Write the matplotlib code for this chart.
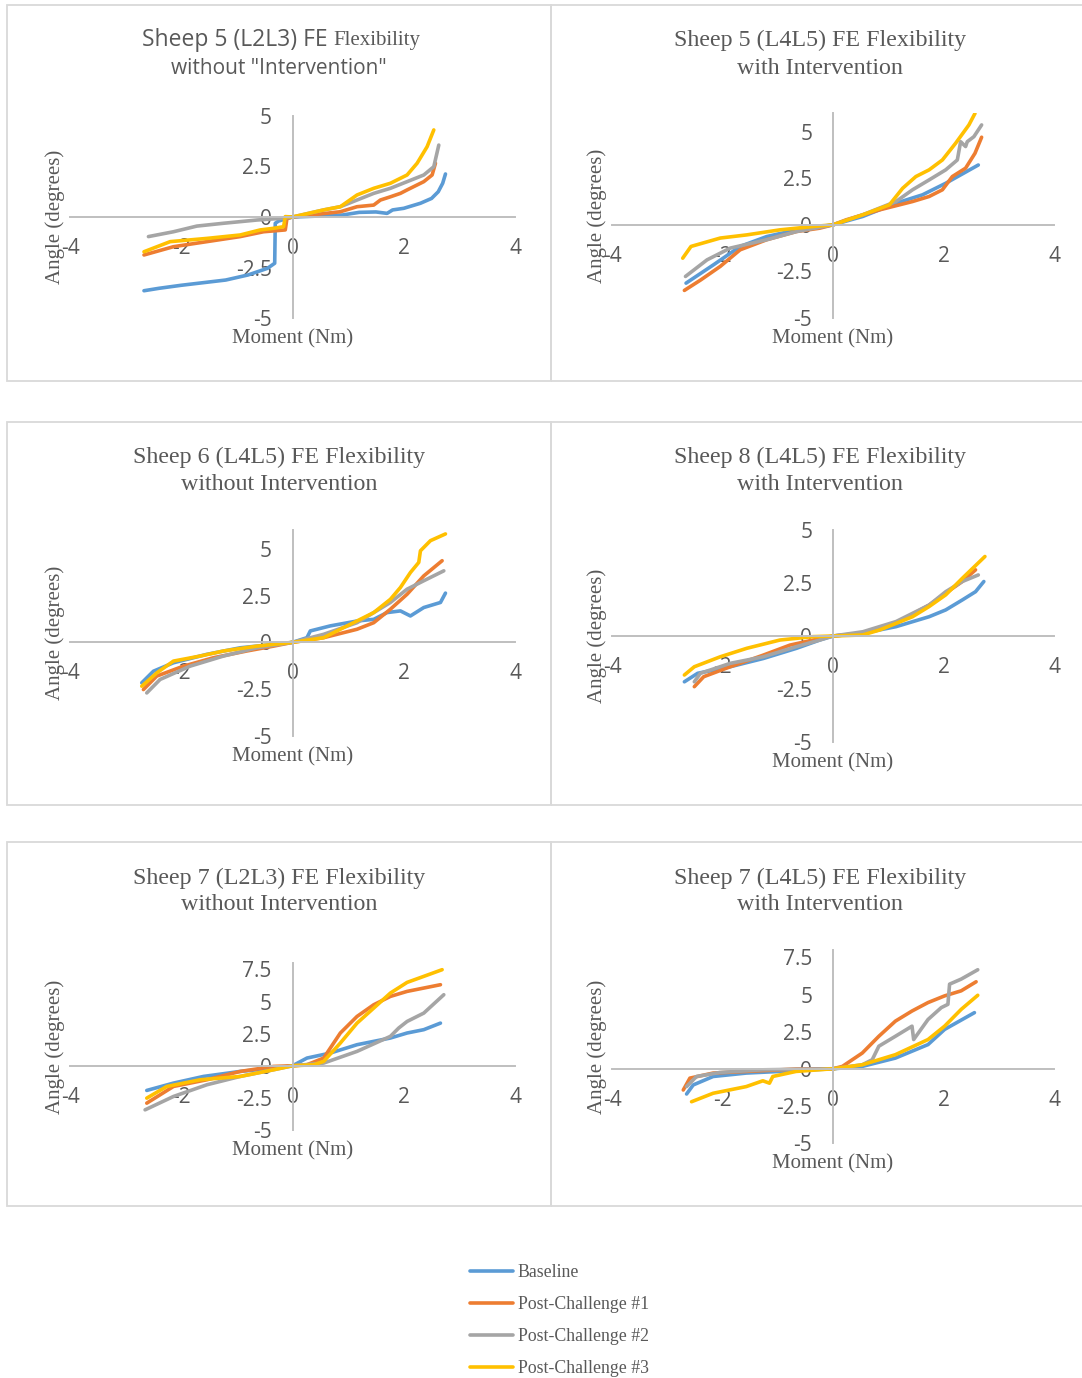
import matplotlib
matplotlib.use("Agg")
import matplotlib.pyplot as plt
from matplotlib.patches import Rectangle

# ---- data (Moment in Nm, Angle in degrees) ----
series_names = ["Baseline", "Post-Challenge #1", "Post-Challenge #2", "Post-Challenge #3"]
series_colors = ["#5B9BD5", "#ED7D31", "#A5A5A5", "#FFC000"]

# Sheep 5 (L2L3) without intervention
s5a_base_x = [-2.67, -2.4, -2.0, -1.6, -1.2, -0.8, -0.45, -0.32, -0.31, -0.25, 0.0, 0.5, 0.9, 1.2, 1.5, 1.7, 1.8, 2.0, 2.3, 2.5, 2.62, 2.7, 2.75]
s5a_base_y = [-3.65, -3.53, -3.38, -3.25, -3.12, -2.87, -2.54, -2.29, -0.31, -0.2, 0.0, 0.05, 0.1, 0.23, 0.25, 0.18, 0.35, 0.43, 0.68, 0.92, 1.25, 1.67, 2.13]
s5a_pc1_x = [-2.67, -2.14, -1.54, -0.94, -0.52, -0.13, -0.1, 0.0, 0.86, 1.16, 1.46, 1.58, 1.76, 1.94, 2.06, 2.36, 2.51, 2.57]
s5a_pc1_y = [-1.88, -1.47, -1.22, -0.97, -0.73, -0.64, -0.07, 0.0, 0.26, 0.51, 0.59, 0.84, 1.0, 1.17, 1.34, 1.75, 2.08, 2.66]
s5a_pc2_x = [-2.59, -2.14, -1.72, -1.24, -0.64, -0.22, 0.0, 0.56, 0.86, 1.16, 1.46, 1.76, 2.06, 2.36, 2.54, 2.63]
s5a_pc2_y = [-0.97, -0.73, -0.45, -0.31, -0.15, -0.07, 0.0, 0.35, 0.51, 0.84, 1.17, 1.42, 1.75, 2.08, 2.49, 3.56]
s5a_pc3_x = [-2.67, -2.2, -1.54, -0.94, -0.58, -0.34, -0.16, -0.13, 0.0, 0.56, 0.86, 1.16, 1.46, 1.76, 2.06, 2.24, 2.42, 2.54]
s5a_pc3_y = [-1.72, -1.22, -1.06, -0.89, -0.64, -0.56, -0.48, 0.02, 0.0, 0.35, 0.51, 1.09, 1.42, 1.67, 2.08, 2.66, 3.48, 4.31]

# Sheep 5 (L4L5) with intervention
s5b_base_x = [-2.66, -2.16, -1.68, -1.2, -0.66, 0.0, 0.54, 1.14, 1.62, 2.04, 2.63]
s5b_base_y = [-3.13, -2.14, -1.16, -0.63, -0.27, 0.0, 0.45, 1.16, 1.61, 2.23, 3.21]
s5b_pc1_x = [-2.69, -2.39, -2.04, -1.68, -1.2, -0.66, -0.24, 0.0, 0.24, 0.84, 1.44, 1.74, 1.98, 2.16, 2.4, 2.57, 2.69]
s5b_pc1_y = [-3.52, -2.95, -2.23, -1.34, -0.8, -0.36, -0.18, 0.0, 0.27, 0.8, 1.25, 1.52, 1.88, 2.59, 3.04, 3.84, 4.7]
s5b_pc2_x = [-2.67, -2.28, -1.86, -1.2, -0.66, 0.0, 0.54, 1.14, 1.44, 1.74, 2.04, 2.25, 2.31, 2.4, 2.43, 2.55, 2.69]
s5b_pc2_y = [-2.77, -1.88, -1.25, -0.8, -0.36, 0.0, 0.54, 1.25, 1.88, 2.41, 2.95, 3.48, 4.46, 4.2, 4.46, 4.73, 5.36]
s5b_pc3_x = [-2.72, -2.57, -2.04, -1.56, -0.96, -0.36, 0.0, 0.54, 1.02, 1.26, 1.5, 1.74, 1.98, 2.22, 2.46, 2.57]
s5b_pc3_y = [-1.79, -1.16, -0.71, -0.54, -0.27, -0.09, 0.0, 0.54, 1.07, 1.96, 2.59, 2.95, 3.48, 4.38, 5.36, 5.98]

# Sheep 6 (L4L5) without intervention
s6_base_x = [-2.71, -2.5, -2.14, -1.54, -0.94, -0.34, 0.0, 0.26, 0.32, 0.68, 1.16, 1.46, 1.7, 1.94, 2.12, 2.36, 2.66, 2.75]
s6_base_y = [-2.16, -1.54, -1.09, -0.64, -0.29, -0.11, 0.0, 0.25, 0.61, 0.88, 1.14, 1.23, 1.59, 1.68, 1.41, 1.86, 2.13, 2.63]
s6_pc1_x = [-2.68, -2.44, -1.96, -1.42, -0.82, -0.34, 0.0, 0.56, 1.16, 1.46, 1.76, 2.06, 2.36, 2.69]
s6_pc1_y = [-2.52, -1.8, -1.27, -0.82, -0.46, -0.2, 0.0, 0.25, 0.7, 1.05, 1.77, 2.57, 3.55, 4.36]
s6_pc2_x = [-2.62, -2.38, -1.84, -1.24, -0.64, 0.0, 0.56, 1.16, 1.46, 1.76, 2.06, 2.36, 2.72]
s6_pc2_y = [-2.7, -1.98, -1.27, -0.73, -0.29, 0.0, 0.43, 1.05, 1.59, 2.13, 2.84, 3.29, 3.82]
s6_pc3_x = [-2.71, -2.44, -2.14, -1.66, -1.24, -0.64, 0.0, 0.56, 0.86, 1.46, 1.76, 1.94, 2.12, 2.27, 2.3, 2.48, 2.75]
s6_pc3_y = [-2.34, -1.63, -1.0, -0.73, -0.46, -0.2, 0.0, 0.25, 0.7, 1.59, 2.3, 2.93, 3.73, 4.27, 4.89, 5.43, 5.79]

# Sheep 8 (L4L5) with intervention
s8_base_x = [-2.69, -2.45, -1.86, -1.26, -0.66, -0.24, 0.0, 0.54, 1.14, 1.74, 2.04, 2.34, 2.58, 2.73]
s8_base_y = [-2.16, -1.76, -1.45, -1.06, -0.58, -0.19, 0.0, 0.13, 0.44, 0.91, 1.23, 1.7, 2.09, 2.57]
s8_pc1_x = [-2.51, -2.34, -1.86, -1.26, -0.78, -0.36, 0.0, 0.54, 1.14, 1.74, 2.04, 2.34, 2.58]
s8_pc1_y = [-2.39, -1.92, -1.45, -0.9, -0.43, -0.19, 0.0, 0.13, 0.6, 1.46, 2.02, 2.57, 3.12]
s8_pc2_x = [-2.51, -2.4, -1.86, -1.26, -0.66, -0.24, 0.0, 0.54, 1.14, 1.74, 2.04, 2.34, 2.63]
s8_pc2_y = [-2.16, -1.76, -1.29, -0.98, -0.5, -0.19, 0.0, 0.2, 0.68, 1.46, 2.09, 2.57, 2.88]
s8_pc3_x = [-2.69, -2.51, -2.04, -1.56, -0.96, -0.36, 0.0, 0.54, 0.84, 1.44, 1.74, 2.04, 2.34, 2.75]
s8_pc3_y = [-1.84, -1.45, -0.98, -0.58, -0.19, -0.03, 0.0, 0.05, 0.28, 0.91, 1.39, 1.94, 2.72, 3.75]

# Sheep 7 (L2L3) without intervention
s7a_base_x = [-2.62, -2.14, -1.6, -0.94, -0.34, 0.0, 0.26, 0.68, 1.16, 1.76, 2.06, 2.36, 2.66]
s7a_base_y = [-1.92, -1.35, -0.83, -0.44, -0.18, 0.0, 0.6, 0.99, 1.64, 2.16, 2.55, 2.81, 3.32]
s7a_pc1_x = [-2.62, -2.14, -1.54, -0.94, -0.34, 0.0, 0.26, 0.56, 0.86, 1.16, 1.46, 1.76, 2.06, 2.66]
s7a_pc1_y = [-2.91, -1.61, -1.09, -0.44, -0.05, 0.0, 0.08, 0.6, 2.55, 3.84, 4.75, 5.4, 5.79, 6.31]
s7a_pc2_x = [-2.65, -2.14, -1.54, -0.94, -0.34, 0.0, 0.56, 1.16, 1.76, 1.91, 2.06, 2.36, 2.72]
s7a_pc2_y = [-3.43, -2.39, -1.48, -0.83, -0.31, 0.0, 0.21, 1.12, 2.29, 2.94, 3.45, 4.1, 5.53]
s7a_pc3_x = [-2.62, -2.26, -1.66, -0.94, -0.34, 0.0, 0.38, 0.56, 0.86, 1.16, 1.46, 1.76, 2.06, 2.36, 2.69]
s7a_pc3_y = [-2.52, -1.61, -1.09, -0.83, -0.31, 0.0, 0.08, 0.34, 1.77, 3.32, 4.49, 5.66, 6.49, 6.96, 7.48]

# Sheep 7 (L4L5) with intervention
s7b_base_x = [-2.65, -2.53, -2.17, -1.57, -0.97, 0.0, 0.53, 1.13, 1.72, 2.02, 2.56]
s7b_base_y = [-1.7, -1.09, -0.52, -0.29, -0.18, 0.0, 0.16, 0.72, 1.63, 2.65, 3.78]
s7b_pc1_x = [-2.71, -2.59, -2.17, -1.57, -0.67, 0.0, 0.17, 0.53, 0.83, 1.13, 1.43, 1.72, 2.02, 2.32, 2.59]
s7b_pc1_y = [-1.43, -0.63, -0.29, -0.18, -0.02, 0.0, 0.16, 1.06, 2.19, 3.21, 3.89, 4.46, 4.91, 5.25, 5.86]
s7b_pc2_x = [-2.65, -2.47, -2.05, -1.27, 0.0, 0.53, 0.71, 0.83, 1.13, 1.43, 1.46, 1.72, 1.96, 2.08, 2.11, 2.32, 2.62]
s7b_pc2_y = [-1.2, -0.52, -0.25, -0.07, 0.0, 0.27, 0.61, 1.52, 2.19, 2.87, 1.97, 3.32, 4.12, 4.34, 5.7, 6.04, 6.67]
s7b_pc3_x = [-2.56, -2.17, -1.57, -1.27, -1.15, -1.09, -0.67, 0.0, 0.53, 1.13, 1.72, 2.02, 2.32, 2.62]
s7b_pc3_y = [-2.22, -1.65, -1.2, -0.81, -0.97, -0.52, -0.18, 0.0, 0.27, 0.95, 1.97, 2.87, 4.0, 4.95]

x_ticks = [-4, -2, 0, 2, 4]
y_ticks_small = [-5, -2.5, 0, 2.5, 5]
y_ticks_big = [-5, -2.5, 0, 2.5, 5, 7.5]

W, H = 1082, 1378
GRID = "#BFBFBF"
TXT = "#595959"
SANS = "Open Sans"
SERIF = "Liberation Serif"

fig = plt.figure(figsize=(W / 100, H / 100), dpi=100)


def fx(px):
    return px / W


def fy(py):
    return 1 - py / H


# panel frames (x0, y0, x1, y1) in pixels
for (x0, y0, x1, y1) in [(7, 5, 551, 381), (551, 5, 1090, 381),
                         (7, 422, 551, 805), (551, 422, 1090, 805),
                         (7, 842, 551, 1206), (551, 842, 1090, 1206)]:
    fig.add_artist(Rectangle((fx(x0), fy(y1)), fx(x1 - x0), (y1 - y0) / H,
                             transform=fig.transFigure, fill=False,
                             edgecolor="#D9D9D9", linewidth=1.3))


def panel(rect_px, ylim, yticks, data):
    left, top, right, bottom = rect_px
    ax = fig.add_axes([fx(left), fy(bottom), fx(right - left), (bottom - top) / H])
    for (xs, ys), c in zip(data, series_colors):
        ax.plot(xs, ys, color=c, linewidth=2.6, solid_capstyle="round",
                solid_joinstyle="round")
    ax.set_xlim(-4, 4)
    ax.set_ylim(*ylim)
    ax.set_xticks(x_ticks)
    ax.set_yticks(yticks)
    ax.set_xticklabels([str(v) for v in x_ticks])
    ax.set_yticklabels([("%g" % v) for v in yticks])
    for s in ["top", "right"]:
        ax.spines[s].set_visible(False)
    ax.spines["left"].set_position(("data", 0))
    ax.spines["bottom"].set_position(("data", 0))
    for s in ["left", "bottom"]:
        ax.spines[s].set_color(GRID)
        ax.spines[s].set_linewidth(1.4)
    ax.tick_params(length=0, pad=15, labelsize=15, labelcolor=TXT)
    for lab in ax.get_xticklabels() + ax.get_yticklabels():
        lab.set_fontfamily(SANS)
    ax.patch.set_alpha(0)
    ax.annotate("Moment (Nm)", xy=(0.5, 0), xycoords="axes fraction",
                xytext=(0, -15), textcoords="offset points", ha="center",
                va="center", fontsize=15, color=TXT, family=SERIF)
    ax.annotate("Angle (degrees)", xy=(0, 0.5), xycoords="axes fraction",
                xytext=(-11, 0), textcoords="offset points", ha="center",
                va="center", rotation=90, fontsize=15, color=TXT, family=SERIF)
    return ax


ax1 = panel((70, 116, 515, 318), (-5, 5), y_ticks_small,
            [(s5a_base_x, s5a_base_y), (s5a_pc1_x, s5a_pc1_y),
             (s5a_pc2_x, s5a_pc2_y), (s5a_pc3_x, s5a_pc3_y)])
ax2 = panel((612, 113, 1054, 318), (-5, 6), y_ticks_small,
            [(s5b_base_x, s5b_base_y), (s5b_pc1_x, s5b_pc1_y),
             (s5b_pc2_x, s5b_pc2_y), (s5b_pc3_x, s5b_pc3_y)])
ax3 = panel((70, 530, 515, 736), (-5, 6), y_ticks_small,
            [(s6_base_x, s6_base_y), (s6_pc1_x, s6_pc1_y),
             (s6_pc2_x, s6_pc2_y), (s6_pc3_x, s6_pc3_y)])
ax4 = panel((612, 530, 1054, 742), (-5, 5), y_ticks_small,
            [(s8_base_x, s8_base_y), (s8_pc1_x, s8_pc1_y),
             (s8_pc2_x, s8_pc2_y), (s8_pc3_x, s8_pc3_y)])
ax5 = panel((70, 963, 515, 1130), (-5, 8), y_ticks_big,
            [(s7a_base_x, s7a_base_y), (s7a_pc1_x, s7a_pc1_y),
             (s7a_pc2_x, s7a_pc2_y), (s7a_pc3_x, s7a_pc3_y)])
ax6 = panel((612, 950, 1054, 1143), (-5, 8), y_ticks_big,
            [(s7b_base_x, s7b_base_y), (s7b_pc1_x, s7b_pc1_y),
             (s7b_pc2_x, s7b_pc2_y), (s7b_pc3_x, s7b_pc3_y)])

# titles
fig.text(fx(328), fy(40), "Sheep 5 (L2L3) FE", ha="right", va="center",
         fontsize=16.5, color=TXT, family=SANS)
fig.text(fx(333), fy(41), "Flexibility", ha="left", va="center",
         fontsize=15, color=TXT, family=SERIF)
fig.text(fx(279), fy(69), 'without "Intervention"', ha="center", va="center",
         fontsize=15, color=TXT, family=SANS)

titles = [
    (820, 40, 68, "Sheep 5 (L4L5) FE Flexibility", "with Intervention"),
    (279, 457, 485, "Sheep 6 (L4L5) FE Flexibility", "without Intervention"),
    (820, 457, 485, "Sheep 8 (L4L5) FE Flexibility", "with Intervention"),
    (279, 878, 905, "Sheep 7 (L2L3) FE Flexibility", "without Intervention"),
    (820, 878, 905, "Sheep 7 (L4L5) FE Flexibility", "with Intervention"),
]
for cx, y1, y2, t1, t2 in titles:
    fig.text(fx(cx), fy(y1), t1, ha="center", va="center", fontsize=17.3,
             color=TXT, family=SERIF)
    fig.text(fx(cx), fy(y2), t2, ha="center", va="center", fontsize=17.3,
             color=TXT, family=SERIF)

# legend
handles = ax1.get_lines()
leg = fig.legend(handles, series_names, loc="upper left",
                 bbox_to_anchor=(fx(461), fy(1255)), frameon=False,
                 borderpad=0, handlelength=2.4, handletextpad=0.3,
                 labelspacing=0.85, prop={"family": SERIF, "size": 12.8})
for t in leg.get_texts():
    t.set_color(TXT)

fig.savefig("out.png", dpi=100)
